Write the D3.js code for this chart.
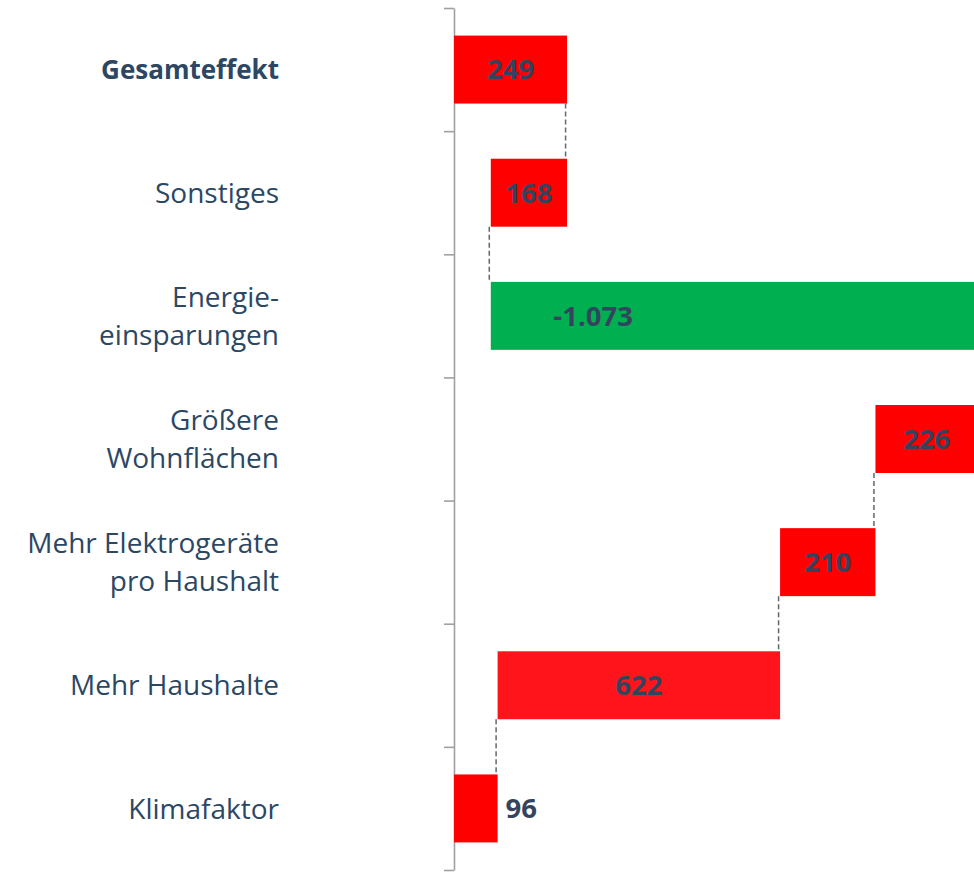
<!DOCTYPE html>
<html lang="de">
<head>
    <meta charset="UTF-8">
    <title>Wasserfall</title>
    <script src="https://d3js.org/d3.v7.min.js"></script>
    <style>
        body { margin: 0; background: #fff; }
    </style>
</head>
<body>
    <div id="chart"></div>

    <script>
        // categories, top to bottom (label lines)
        const categories = [
            ['Gesamteffekt'],
            ['Sonstiges'],
            ['Energie-', 'einsparungen'],
            ['Größere', 'Wohnflächen'],
            ['Mehr Elektrogeräte', 'pro Haushalt'],
            ['Mehr Haushalte'],
            ['Klimafaktor']
        ];
        // change per step, bottom step first in the cumulative sense
        const values = [249, 168, -1073, 226, 210, 622, 96];
        const isTotal = [true, false, false, false, false, false, false];
        const valueLabels = ['249', '168', '-1.073', '226', '210', '622', '96'];
        const barColors = ['#ff0000', '#ff0000', '#00b050', '#ff0000', '#ff0000', '#ff141c', '#ff0000'];

        const W = 974, H = 872;
        const n = categories.length;

        // compute start/end of each bar, going from the bottom (Klimafaktor) upwards
        const bars = [];
        let run = 0;
        for (let i = n - 1; i >= 0; i--) {
            if (isTotal[i]) {
                bars[i] = {start: 0, end: values[i]};
            } else {
                bars[i] = {start: run, end: run + values[i]};
                run += values[i];
            }
        }

        const svg = d3.select('#chart')
            .append('svg')
            .attr('width', W)
            .attr('height', H)
            .style('font-family', '"Open Sans", sans-serif');

        const x = d3.scaleLinear()
            .domain([0, 1145])
            .range([454, 974]);

        const y = d3.scaleBand()
            .domain(d3.range(n))
            .range([8, 870])
            .paddingInner(0.448)
            .paddingOuter(0.224);

        // axis with ticks on the band borders
        const yEdge = d3.scaleLinear().domain([0, n]).range([8, 870]);
        const axis = svg.append('g')
            .attr('transform', 'translate(454,0)')
            .call(d3.axisLeft(yEdge).tickValues(d3.range(n + 1)).tickSize(10).tickSizeOuter(0).tickFormat(''));
        axis.selectAll('path, line').attr('stroke', '#a0a0a0').attr('stroke-width', 1.6);

        // connectors
        const conn = svg.append('g');
        for (let i = 0; i < n - 1; i++) {
            // shared value between bar i and bar i+1 (below it)
            const cur = bars[i], below = bars[i + 1];
            const curVals = [cur.start, cur.end];
            const belowVals = [below.start, below.end];
            let v = null;
            curVals.forEach(a => belowVals.forEach(b => { if (Math.abs(a - b) < 1e-6) v = a; }));
            if (v === null) continue;
            conn.append('line')
                .attr('x1', x(v) - 1.5).attr('x2', x(v) - 1.5)
                .attr('y1', y(i) + y.bandwidth())
                .attr('y2', y(i + 1))
                .attr('stroke', '#666')
                .attr('stroke-width', 1.5)
                .attr('stroke-dasharray', '5,3');
        }

        // bars
        svg.append('g')
            .selectAll('rect')
            .data(bars)
            .join('rect')
            .attr('x', d => x(Math.min(d.start, d.end)))
            .attr('y', (d, i) => y(i))
            .attr('width', d => Math.abs(x(d.end) - x(d.start)))
            .attr('height', y.bandwidth())
            .attr('fill', (d, i) => barColors[i]);

        // value labels
        svg.append('g')
            .selectAll('text')
            .data(bars)
            .join('text')
            .attr('x', (d, i) => {
                const lo = Math.min(d.start, d.end), hi = Math.max(d.start, d.end);
                if (x(hi) - x(lo) < 60) return x(hi) + 8;          // small bar: label outside
                if (values[i] < 0) return x(lo + (hi - lo) * 0.21); // long bar runs off the page
                return x((lo + hi) / 2);
            })
            .attr('y', (d, i) => y(i) + y.bandwidth() / 2)
            .attr('dy', '0.36em')
            .attr('text-anchor', d => (x(Math.abs(d.end - d.start)) - x(0) < 60) ? 'start' : 'middle')
            .attr('font-size', 27.5)
            .attr('font-weight', 700)
            .attr('fill', '#34445f')
            .text((d, i) => valueLabels[i]);

        // category labels
        const cat = svg.append('g')
            .selectAll('text')
            .data(categories)
            .join('text')
            .attr('x', 279)
            .attr('y', (d, i) => y(i) + y.bandwidth() / 2)
            .attr('text-anchor', 'end')
            .attr('font-size', (d, i) => isTotal[i] ? 26 : 28)
            .attr('font-weight', (d, i) => isTotal[i] ? 700 : 400)
            .attr('fill', '#2c4764');
        cat.selectAll('tspan')
            .data(d => d.map((t, k) => ({t, k, len: d.length})))
            .join('tspan')
            .attr('x', 279)
            .attr('dy', d => d.k === 0 ? ((0.36 - (d.len - 1) * 0.68) + 'em') : '1.36em')
            .text(d => d.t);
    </script>
</body>
</html>
